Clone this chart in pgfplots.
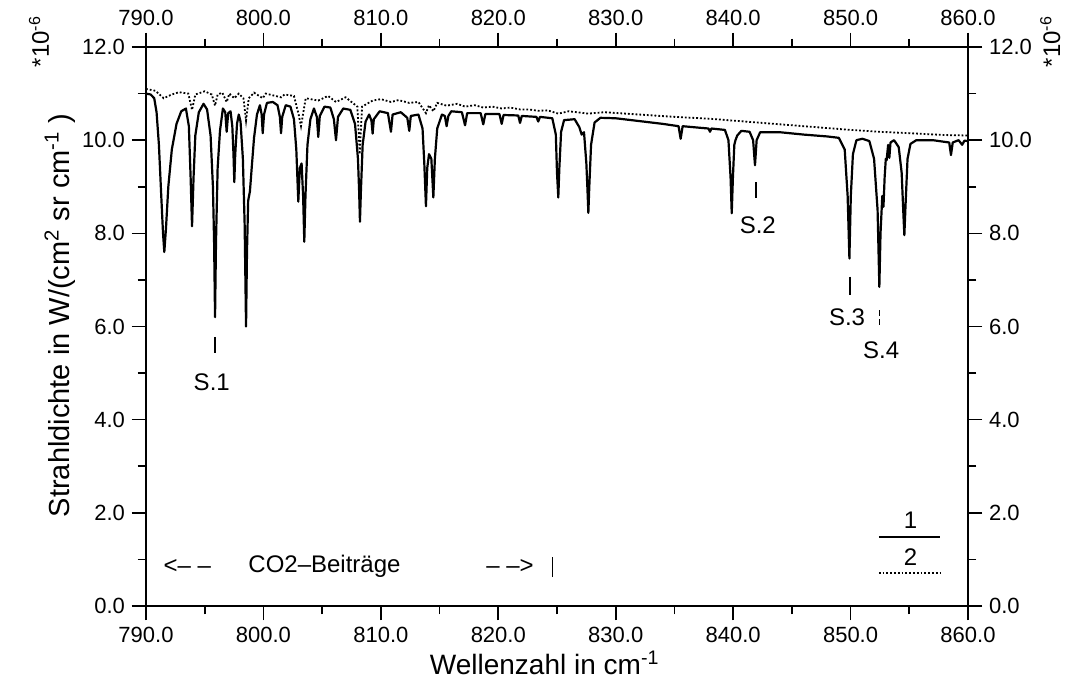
\documentclass[border=0pt]{standalone}
\usepackage{fontspec}
\setmainfont{Liberation Sans}
\usepackage{pgfplots}
\pgfplotsset{compat=1.18}
\pgfplotsset{
  base/.style={
    scale only axis, width=411pt, height=279.5pt,
    xmin=790, xmax=860, ymin=0, ymax=12,
    xtick={790,800,...,860}, minor xtick={795,805,...,855},
    ytick={0,2,...,12}, minor ytick={1,3,...,11},
    tick pos=both, tick align=outside,
    major tick length=7pt, minor tick length=4pt,
    every tick/.style={black, line width=0.8pt},
    axis line style={line width=0.9pt},
    /pgf/number format/.cd, fixed, fixed zerofill, precision=1, 1000 sep={}, assume math mode=true,
  },
}
\begin{document}
\begin{tikzpicture}
\useasboundingbox (-73pt,-42.5pt) rectangle (464.5pt,303pt);
\begin{axis}[base,
  ticklabel style={font=\fontsize{11}{13}\selectfont},
  xlabel={Wellenzahl in cm\textsuperscript{-1}},
  xlabel style={font=\fontsize{14}{16}\selectfont, at={(axis description cs:0.485,-0.102)}, anchor=center},
  ylabel={Strahldichte in W/(cm\textsuperscript{2} sr cm\textsuperscript{-1} )},
  ylabel style={font=\fontsize{14.5}{16}\selectfont, at={(axis description cs:-0.105,0.52)}, anchor=center},
  clip=false,
]
% series 1 (solid)
\addplot[black, line width=1.1pt, line join=round] coordinates {
(790.0,11.00) (790.4,10.98) (790.7,10.90) (790.9,10.60) (791.1,9.90) (791.3,8.80) (791.45,8.00) (791.56,7.60) (791.7,8.10) (791.9,9.00) (792.2,9.80) (792.6,10.35) (793.0,10.62) (793.4,10.68) (793.65,10.30) (793.8,9.20) (793.92,8.15) (794.05,9.20) (794.2,10.10) (794.5,10.60) (794.9,10.78) (795.2,10.66) (795.5,10.10) (795.7,9.00) (795.8,7.80) (795.88,6.20) (795.96,7.80) (796.1,9.40) (796.3,10.20) (796.55,10.68) (796.75,10.60) (796.87,10.18) (797.0,10.58) (797.2,10.62) (797.35,10.30) (797.45,9.70) (797.52,9.10) (797.6,9.70) (797.75,10.35) (797.9,10.55) (798.05,10.40) (798.25,9.60) (798.4,8.20) (798.52,6.00) (798.6,7.60) (798.7,8.70) (798.85,8.90) (799.0,9.40) (799.2,10.05) (799.45,10.55) (799.7,10.75) (799.85,10.55) (799.94,10.15) (800.05,10.55) (800.3,10.80) (800.8,10.82) (801.2,10.75) (801.4,10.50) (801.5,10.15) (801.6,10.50) (801.9,10.75) (802.3,10.72) (802.6,10.45) (802.8,9.80) (802.97,8.68) (803.1,9.40) (803.25,9.50) (803.38,8.80) (803.48,7.82) (803.58,8.80) (803.75,9.90) (804.0,10.45) (804.3,10.68) (804.55,10.50) (804.67,10.07) (804.8,10.52) (805.2,10.72) (805.7,10.70) (806.0,10.45) (806.18,10.00) (806.35,10.50) (806.8,10.68) (807.4,10.65) (807.8,10.35) (808.05,9.60) (808.15,8.90) (808.22,8.25) (808.3,8.90) (808.45,9.90) (808.7,10.40) (809.0,10.55) (809.2,10.42) (809.3,10.14) (809.4,10.45) (809.9,10.62) (810.6,10.58) (810.86,10.18) (811.0,10.55) (811.7,10.60) (812.25,10.48) (812.42,10.20) (812.55,10.52) (813.2,10.55) (813.55,10.25) (813.7,9.50) (813.84,8.58) (813.95,9.40) (814.1,9.70) (814.3,9.60) (814.47,8.77) (814.6,9.60) (814.8,10.25) (815.2,10.55) (815.45,10.52) (815.6,10.30) (815.75,10.52) (816.0,10.62) (816.9,10.60) (817.17,10.32) (817.35,10.58) (818.5,10.58) (818.72,10.34) (818.9,10.56) (820.1,10.56) (820.29,10.35) (820.45,10.54) (821.7,10.53) (821.85,10.37) (822.0,10.52) (823.25,10.50) (823.4,10.40) (823.55,10.50) (824.6,10.47) (824.9,10.12) (825.0,9.30) (825.11,8.77) (825.2,9.40) (825.35,10.18) (825.6,10.43) (826.5,10.45) (826.9,10.28) (827.1,10.12) (827.3,10.17) (827.5,9.50) (827.6,8.90) (827.67,8.44) (827.75,9.00) (827.9,9.90) (828.2,10.38) (828.7,10.48) (830.0,10.47) (832.0,10.41) (834.0,10.35) (835.35,10.30) (835.53,10.03) (835.7,10.30) (837.0,10.27) (837.9,10.25) (838.03,10.18) (838.15,10.25) (839.3,10.22) (839.6,10.00) (839.78,9.20) (839.88,8.43) (839.98,9.20) (840.1,9.90) (840.2,10.00) (840.35,10.10) (840.7,10.20) (841.4,10.18) (841.7,10.00) (841.86,9.46) (842.0,10.00) (842.3,10.17) (844.0,10.17) (846.0,10.12) (848.0,10.08) (849.0,10.05) (849.5,9.80) (849.75,8.80) (849.9,7.46) (850.02,8.80) (850.2,9.70) (850.5,10.00) (851.0,10.03) (851.6,9.98) (852.0,9.60) (852.3,8.50) (852.45,6.85) (852.55,8.00) (852.7,8.80) (852.8,8.57) (852.9,9.20) (853.0,9.60) (853.07,9.57) (853.2,9.90) (853.3,9.62) (853.4,9.95) (853.7,10.00) (854.1,9.85) (854.35,9.30) (854.5,8.40) (854.58,7.96) (854.68,8.60) (854.85,9.60) (855.1,9.92) (855.6,10.00) (857.0,10.00) (858.4,9.95) (858.55,9.68) (858.7,9.95) (859.2,10.00) (859.5,9.90) (859.7,9.99) (860.0,9.98)
};
% series 2 (dotted)
\addplot[black, line width=0.9pt, densely dotted] coordinates {
(790.0,11.10) (790.8,11.06) (791.5,10.90) (792.2,10.98) (792.8,11.03) (793.6,11.00) (793.92,10.65) (794.2,10.98) (795.0,11.05) (795.6,10.98) (795.88,10.74) (796.1,10.98) (796.5,11.02) (796.87,10.82) (797.1,11.00) (797.52,10.90) (797.9,11.00) (798.3,10.90) (798.52,10.42) (798.75,10.90) (799.2,11.02) (799.94,10.90) (800.2,11.00) (801.5,10.92) (801.8,10.98) (802.6,10.95) (803.0,10.55) (803.2,10.30) (803.6,10.90) (804.67,10.85) (805.5,10.95) (806.18,10.82) (807.0,10.92) (808.0,10.72) (808.2,9.70) (808.4,10.72) (809.3,10.85) (810.0,10.88) (810.86,10.82) (811.5,10.86) (812.42,10.80) (813.2,10.82) (813.84,10.58) (814.1,10.75) (814.47,10.62) (814.8,10.80) (815.6,10.74) (816.5,10.78) (817.17,10.72) (818.0,10.75) (818.72,10.70) (819.5,10.72) (820.29,10.68) (821.0,10.70) (821.85,10.66) (822.6,10.66) (823.4,10.63) (824.2,10.64) (825.11,10.57) (826.0,10.62) (827.67,10.57) (829.0,10.60) (832.0,10.55) (835.0,10.50) (838.0,10.46) (840.0,10.42) (842.0,10.38) (845.0,10.32) (848.0,10.26) (850.0,10.22) (852.45,10.18) (855.0,10.15) (858.0,10.11) (860.0,10.10)
};
% annotations
\draw[line width=0.8pt] (axis cs:795.88,5.78) -- (axis cs:795.88,5.43);
\node[font=\fontsize{12}{14}\selectfont] at (axis cs:795.6,4.8) {S.1};
\draw[line width=0.8pt] (axis cs:841.95,9.10) -- (axis cs:841.95,8.75);
\node[font=\fontsize{12}{14}\selectfont] at (axis cs:842.1,8.18) {S.2};
\draw[line width=0.8pt] (axis cs:849.95,7.07) -- (axis cs:849.95,6.67);
\node[font=\fontsize{12}{14}\selectfont] at (axis cs:849.7,6.19) {S.3};
\draw[line width=0.8pt, dash pattern=on 3pt off 1.5pt] (axis cs:852.45,6.35) -- (axis cs:852.45,5.99);
\node[font=\fontsize{12}{14}\selectfont] at (axis cs:852.6,5.49) {S.4};
% CO2 text
\node[font=\fontsize{12}{14}\selectfont, anchor=west] at (axis cs:790.9,0.85) {<-- --};
\node[font=\fontsize{12}{14}\selectfont] at (axis cs:805.2,0.85) {CO2--Beiträge};
\node[font=\fontsize{12}{14}\selectfont] at (axis cs:821.0,0.85) {-- -->};
\draw[line width=0.8pt] (axis cs:824.6,0.62) -- (axis cs:824.6,1.05);
% legend
\node[font=\fontsize{12}{14}\selectfont] at (axis cs:855.1,1.85) {1};
\draw[line width=1pt] (axis cs:852.4,1.48) -- (axis cs:857.6,1.48);
\node[font=\fontsize{12}{14}\selectfont] at (axis cs:855.1,1.05) {2};
\draw[line width=0.9pt, densely dotted] (axis cs:852.4,0.71) -- (axis cs:857.6,0.71);
% exponent labels
\node[rotate=90, font=\fontsize{12}{14}\selectfont] at (axis description cs:-0.13,1.01) {*10\textsuperscript{-6}};
\node[rotate=90, font=\fontsize{12}{14}\selectfont] at (axis description cs:1.1,1.01) {*10\textsuperscript{-6}};
\end{axis}
\begin{axis}[base,
  ticklabel style={font=\fontsize{11}{13}\selectfont},
  xticklabel pos=upper, yticklabel pos=right,
]
\end{axis}
\end{tikzpicture}
\end{document}
